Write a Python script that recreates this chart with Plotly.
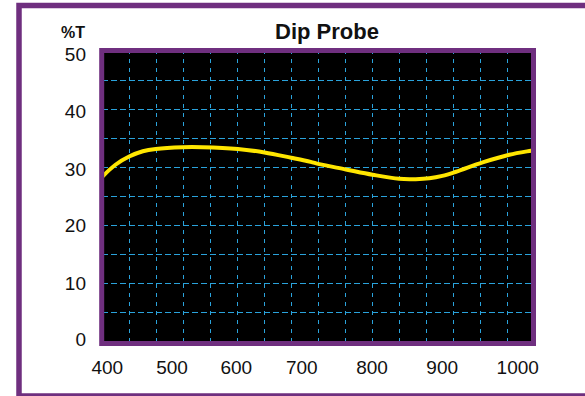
import plotly.graph_objects as go

# ---- data ----
wavelength = [400, 418, 437, 456, 474, 511, 539, 588, 625, 662, 689, 701,
              738, 775, 812, 835, 854, 872, 891, 928, 965, 995, 1000]
transmittance = [28.37, 30.39, 31.80, 32.71, 33.12, 33.42, 33.42, 33.12, 32.51, 31.60, 30.89, 30.49,
                 29.58, 28.67, 27.96, 27.91, 28.06, 28.47, 29.18, 30.79, 32.11, 32.81, 32.92]

x_tick_labels = ["400", "500", "600", "700", "800", "900", "1000"]
y_tick_labels = ["50", "40", "30", "20", "10", "0"]

# label placement (layout only)
x_tick_pos = [406.7, 496.5, 585.8, 676.7, 774.3, 871.8, 976.7]
y_tick_pos = [49.36, 39.62, 29.62, 19.91, 9.88, 0.29]

PURPLE = "#6f2f7f"
GRID = "#2aa3dc"
W, H = 585, 396
L, R, T, B = 102, 534, 50, 341  # plot area on screen (integer pixels)
X_RANGE = [399.306, 999.306]      # half-pixel offset keeps grid lines crisp
Y_RANGE = [0.001, 50.1733]


def px2paper_x(p):
    return (p - L) / (R - L)


def px2paper_y(q):
    return (B - q) / (B - T)


fig = go.Figure()
fig.add_trace(go.Scatter(
    x=wavelength, y=transmittance, mode="lines",
    line=dict(color="#ffe600", width=4, shape="spline", smoothing=1.0),
    hoverinfo="skip", showlegend=False,
))

fig.update_layout(
    width=W, height=H,
    margin=dict(l=L, r=W - R, t=T, b=H - B, pad=0),
    paper_bgcolor="white",
    plot_bgcolor="black",
    showlegend=False,
    font=dict(family="Liberation Sans", size=19, color="#111111"),
    xaxis=dict(
        range=X_RANGE, showgrid=False, zeroline=False, showline=False,
        tickmode="array", tickvals=x_tick_pos, ticktext=x_tick_labels,
        ticks="", ticklabelstandoff=13,
        minor=dict(dtick=37.5, tick0=400, showgrid=True, gridcolor=GRID,
                   gridwidth=1, griddash="4px,5px", ticks=""),
        fixedrange=True,
    ),
    yaxis=dict(
        range=Y_RANGE, showgrid=False, zeroline=False, showline=False,
        tickmode="array", tickvals=y_tick_pos, ticktext=y_tick_labels,
        ticks="", ticklabelstandoff=15,
        minor=dict(dtick=5, tick0=0, showgrid=True, gridcolor=GRID,
                   gridwidth=1, griddash="6px,3px", ticks=""),
        fixedrange=True,
    ),
    shapes=[
        # plot border
        dict(type="rect", xref="paper", yref="paper",
             x0=px2paper_x(101.7), x1=px2paper_x(533.5),
             y0=px2paper_y(343.5), y1=px2paper_y(50.5),
             line=dict(color=PURPLE, width=5), layer="above"),
        # outer frame (right side lies outside the view)
        dict(type="rect", xref="paper", yref="paper",
             x0=px2paper_x(19), x1=px2paper_x(620),
             y0=px2paper_y(396), y1=px2paper_y(5.5),
             line=dict(color=PURPLE, width=5.5), layer="above"),
    ],
    annotations=[
        dict(text="<b>Dip Probe</b>", xref="paper", yref="paper",
             x=px2paper_x(326.7), y=px2paper_y(31), xanchor="center", yanchor="middle",
             showarrow=False, font=dict(family="Liberation Sans", size=22, color="#111111")),
        dict(text="<b>%T</b>", xref="paper", yref="paper",
             x=px2paper_x(72.5), y=px2paper_y(32), xanchor="center", yanchor="middle",
             showarrow=False, font=dict(family="Liberation Sans", size=16, color="#111111")),
    ],
)

fig.write_html(
    "out.html",
    config={"displayModeBar": False},
    post_script="document.body.style.margin='0';document.body.style.overflow='hidden';",
)
